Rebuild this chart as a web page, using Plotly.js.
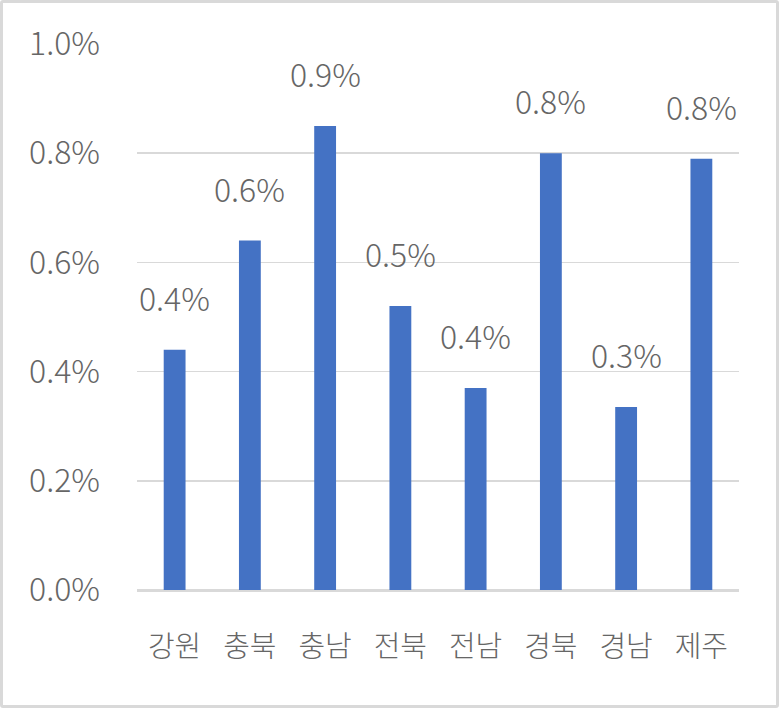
<!DOCTYPE html>
<html>
<head>
<meta charset="utf-8">
<script src="https://cdn.plot.ly/plotly-3.0.1.min.js"></script>
<style>
  html, body { margin: 0; padding: 0; background: #fff; }
  #wrap { position: relative; width: 779px; height: 708px; }
  #chart { position: absolute; left: 0; top: 0; width: 779px; height: 708px; }
  #frame { position: absolute; left: 0; top: 0; width: 779px; height: 708px; box-sizing: border-box; border: 3px solid #d9d9d9; border-radius: 3px; pointer-events: none; }
</style>
</head>
<body>
<div id="wrap">
  <div id="chart"></div>
  <div id="frame"></div>
</div>
<script>
const regions = ["강원", "충북", "충남", "전북", "전남", "경북", "경남", "제주"];
const values = [0.0044, 0.0064, 0.0085, 0.0052, 0.0037, 0.0080, 0.00335, 0.0079];
const yTicks = [0, 0.002, 0.004, 0.006, 0.008, 0.010];
const yTickLabels = ["0.0%", "0.2%", "0.4%", "0.6%", "0.8%", "1.0%"];

const fontFam = '"Noto Sans CJK KR", "Noto Sans", sans-serif';
const gray = '#666666';

const trace = {
  type: 'bar',
  x: regions,
  y: values,
  marker: { color: '#4472c4' },
  hoverinfo: 'none'
};

const annotations = regions.map((r, i) => ({
  x: r,
  y: values[i],
  xref: 'x',
  yref: 'y',
  text: (values[i] * 100).toFixed(1) + '%',
  showarrow: false,
  yanchor: 'middle',
  yshift: 53,
  font: { family: fontFam, size: 32, color: gray, weight: 300 }
}));

const layout = {
  width: 779,
  height: 708,
  margin: { l: 137, r: 40, t: 44, b: 118 },
  paper_bgcolor: '#ffffff',
  plot_bgcolor: '#ffffff',
  showlegend: false,
  bargap: 0.71,
  font: { family: fontFam, size: 30, color: gray },
  xaxis: {
    type: 'category',
    showgrid: false,
    zeroline: false,
    showline: false,
    ticks: '',
    ticklen: 0,
    ticklabelstandoff: 37,
    tickfont: { family: fontFam, size: 29, color: gray, weight: 300 },
    automargin: false
  },
  yaxis: {
    range: [0, 0.01],
    tickvals: yTicks,
    ticktext: yTickLabels,
    showgrid: true,
    gridcolor: '#d9d9d9',
    gridwidth: 1.5,
    zeroline: true,
    zerolinecolor: '#d9d9d9',
    zerolinewidth: 3,
    showline: false,
    ticks: '',
    ticklabelstandoff: 36,
    tickfont: { family: fontFam, size: 32, color: gray, weight: 300 },
    automargin: false
  },
  annotations: annotations
};

Plotly.newPlot('chart', [trace], layout, { displayModeBar: false, staticPlot: true });
</script>
</body>
</html>
